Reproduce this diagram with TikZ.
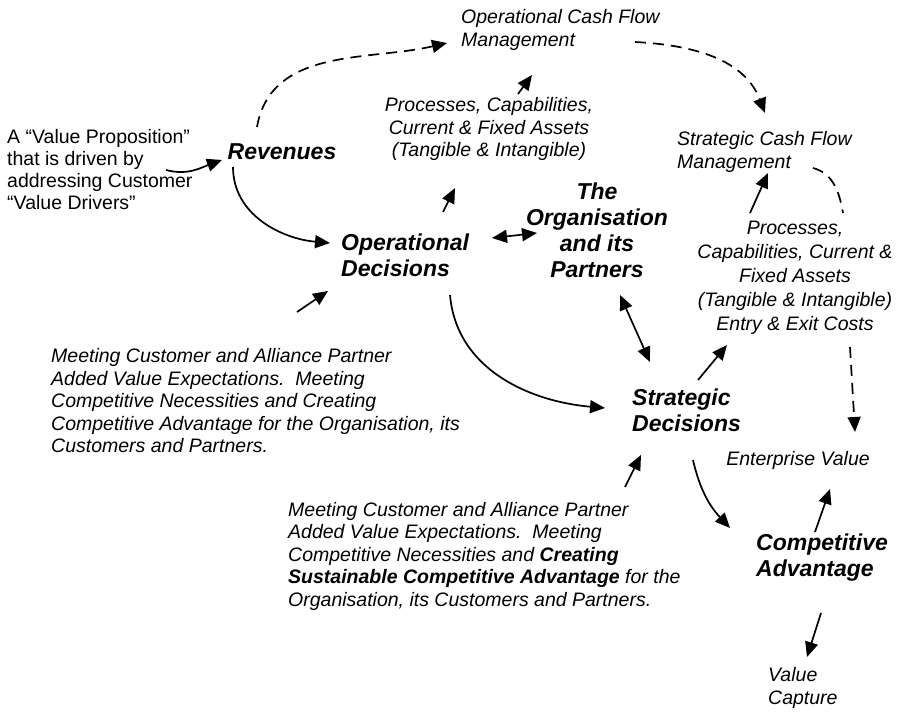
\documentclass[tikz,border=0pt]{standalone}
\usepackage{fontspec}
\setmainfont{Liberation Sans}
\usetikzlibrary{arrows.meta,calc}
\begin{document}
\begin{tikzpicture}[x=1pt,y=-1pt,
  txt/.style={inner sep=0pt,font=\fontsize{19.5}{22.5}\selectfont\itshape},
  uptxt/.style={inner sep=0pt,font=\fontsize{19.5}{22}\selectfont},
  big/.style={inner sep=0pt,font=\fontsize{23}{26}\selectfont\bfseries\itshape},
  arr/.style={line width=1.7pt,-{Triangle[length=15pt,width=13pt]}},
  darr/.style={line width=1.7pt,{Triangle[length=15pt,width=13pt]}-{Triangle[length=15pt,width=13pt]}},
  dsh/.style={line width=1.7pt,dash pattern=on 11pt off 7pt}
]
\useasboundingbox (0,0) rectangle (898,712);

% nodes
\node[uptxt,anchor=west,align=left] (vp) at (7,170)
  {A “Value Proposition”\\that is driven by\\addressing Customer\\“Value Drivers”};
\node[big] (rev) at (282,152) {Revenues};
\node[txt,anchor=west,align=left] (ocf) at (461,30) {Operational Cash Flow\\Management};
\node[txt,align=center] (proc1) at (489,129)
  {Processes, Capabilities,\\Current \& Fixed Assets\\(Tangible \& Intangible)};
\node[txt,anchor=west,align=left] (scf) at (677,152) {Strategic Cash Flow\\Management};
\node[big,align=center] (org) at (597,230) {The\\Organisation\\and its\\Partners};
\node[big,anchor=west,align=left] (opd) at (341,255) {Operational\\Decisions};
\node[inner sep=0pt,font=\fontsize{19.5}{24}\selectfont\itshape,align=center] (proc2) at (795,278)
  {Processes,\\Capabilities, Current \&\\Fixed Assets\\(Tangible \& Intangible)\\Entry \& Exit Costs};
\node[big,anchor=west,align=left] (std) at (632,410) {Strategic\\Decisions};
\node[txt] (ent) at (798,460) {Enterprise Value};
\node[big,anchor=west,align=left] (cad) at (756,558) {Competitive\\Advantage};
\node[txt,anchor=west,align=left] (vcap) at (768,688) {Value\\Capture};
\node[txt,anchor=west,align=left] (para1) at (51,401)
  {Meeting Customer and Alliance Partner\\Added Value Expectations.\ \ Meeting\\Competitive Necessities and Creating\\Competitive Advantage for the Organisation, its\\Customers and Partners.};
\node[txt,anchor=west,align=left] (para2) at (288,556)
  {Meeting Customer and Alliance Partner\\Added Value Expectations.\ \ Meeting\\Competitive Necessities and \textbf{Creating}\\\textbf{Sustainable Competitive Advantage} for the\\Organisation, its Customers and Partners.};

\coordinate (d1) at (843,213);
\coordinate (d2) at (850,347);

% connectors
\draw[arr] ($(vp.west)+(159,0)$) to[out=-15,in=200] ($(rev.center)+(-60,8)$);
\draw[arr] ($(rev.center)+(-49,15)$) to[out=-90,in=175] ($(opd.west)+(-11,-12)$);
\draw[arr,dsh] ($(rev.center)+(-25,-25)$) to[out=80,in=193] ($(ocf.west)+(-14,13)$);
\draw[arr,dsh] ($(ocf.west)+(174,12)$) to[out=-3,in=111] ($(scf.west)+(88,-39)$);
\draw[dsh] ($(scf.west)+(136,16)$) to[out=-15,in=100] (d1);
\draw[arr,dsh] (d2) -- ($(ent.center)+(57,-28)$);
\draw[arr] ($(proc1.center)+(29,-35)$) -- ($(ocf.west)+(71,45)$);
\draw[arr] ($(opd.west)+(102,-43)$) -- ($(proc1.center)+(-34,59)$);
\draw[darr] ($(opd.west)+(151,-17)$) -- ($(org.center)+(-60,3)$);
\draw[darr] ($(org.center)+(23,65)$) -- ($(std.west)+(18,-48)$);
\draw[arr] ($(opd.west)+(109,40)$) to[out=-85,in=175] ($(std.west)+(-27,-2)$);
\draw[arr] ($(std.west)+(66,-30)$) -- ($(proc2.center)+(-68,67)$);
\draw[arr] ($(proc2.center)+(-45,-65)$) -- ($(scf.west)+(91,21)$);
\draw[arr] ($(std.west)+(61,50)$) to[out=-77,in=133] ($(cad.west)+(-26,-30)$);
\draw[arr] ($(cad.west)+(59,-26)$) -- ($(ent.center)+(32,29)$);
\draw[arr] ($(cad.west)+(65,55)$) -- ($(vcap.west)+(39,-31)$);
\draw[arr] ($(para1.west)+(246,-89)$) -- ($(opd.west)+(-13,36)$);
\draw[arr] ($(para2.west)+(337,-69)$) -- ($(std.west)+(9,45)$);
\end{tikzpicture}
\end{document}
